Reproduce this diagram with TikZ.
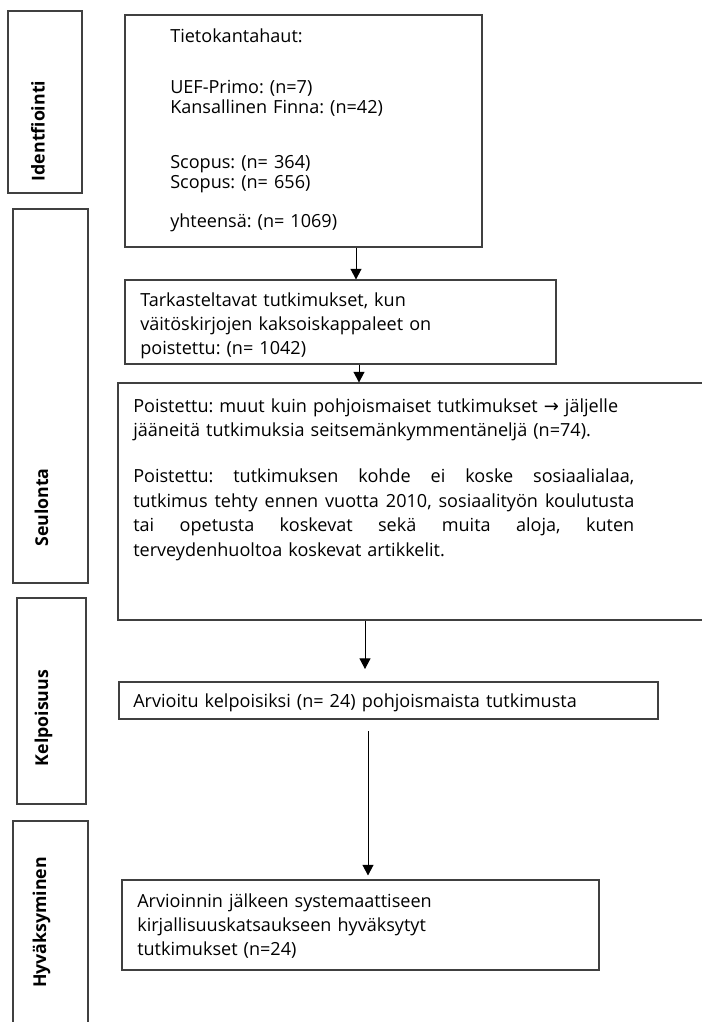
\documentclass[tikz,border=0pt]{standalone}
\usepackage{fontspec}
\setmainfont{Open Sans}
\newfontfamily\nuolifont{DejaVu Sans}
\usetikzlibrary{arrows.meta,fit}
\frenchspacing

% tasattu rivi
\newcommand{\tasarivi}[1]{{\spaceskip=0.26em plus 3em minus 0.12em\makebox[375.75pt][s]{#1}}}

\tikzset{
    laatikko/.style={draw=black!75, line width=0.8pt, inner sep=0pt},
    teksti/.style={inner sep=0pt, anchor=base west, align=left,
        font=\fontsize{13.55}{18}\selectfont},
    vaihe/.style={inner sep=0pt, rotate=90, anchor=base,
        font=\fontsize{13.3}{18}\selectfont\bfseries},
    nuoli/.style={-{Triangle[length=8pt,width=8.25pt]}, line width=0.75pt, black},
}

\begin{document}
\begin{tikzpicture}[x=0.75pt, y=-0.75pt]
        \useasboundingbox (0,0) rectangle (702,1022);
        \clip (0,0) rectangle (702,1022);

        % Vaiheet vasemmalla
        \node[laatikko, fit={(8,11) (82,193)}] (identlaatikko) {};
        \node[vaihe] (ident) at (44.5,131) {Identfiointi};
        \node[laatikko, fit={(13,209) (88,583)}] (seullaatikko) {};
        \node[vaihe] (seul) at (48,507.5) {Seulonta};
        \node[laatikko, fit={(17,598) (86,804)}] (kelplaatikko) {};
        \node[vaihe] (kelpv) at (48,718) {Kelpoisuus};
        \node[laatikko, fit={(13,821) (88,1040)}] (hyvlaatikko) {};
        \node[vaihe] (hyvv) at (46,922.5) {Hyväksyminen};

        % Tietokantahaut
        \node[laatikko, fit={(125,15) (482,247)}] (haku) {};
        \node[teksti, text width=225pt, font=\fontsize{13.55}{15}\selectfont] (hakuteksti) at (170,42)
            {Tietokantahaut:\\[23.25pt]
             UEF-Primo: (n=7)\\
             Kansallinen Finna: (n=42)\\[26.25pt]
             Scopus: (n= 364)\\
             Scopus: (n= 656)\\[14.25pt]
             yhteensä: (n= 1069)};

        % Kaksoiskappaleiden poisto
        \node[laatikko, fit={(125,280) (556,364)}] (tark) {};
        \node[teksti, text width=310pt] (tarkteksti) at (140,306.5)
            {Tarkasteltavat tutkimukset, kun\\
             väitöskirjojen kaksoiskappaleet on\\
             poistettu: (n= 1042)};

        % Seulonta
        \node[laatikko, fit={(118,383) (720,620)}] (poist) {};
        \node[teksti, text width=375.75pt, font=\fontsize{13.55}{18.6}\selectfont] (poistteksti) at (133,412)
            {Poistettu: muut kuin pohjoismaiset tutkimukset {\nuolifont →} jäljelle\\
             jääneitä tutkimuksia seitsemänkymmentäneljä (n=74).\\[15.5pt]
             \tasarivi{Poistettu: tutkimuksen kohde ei koske sosiaalialaa,}\\
             \tasarivi{tutkimus tehty ennen vuotta 2010, sosiaalityön koulutusta}\\
             \tasarivi{tai opetusta koskevat sekä muita aloja, kuten}\\
             terveydenhuoltoa koskevat artikkelit.};

        % Kelpoisuus
        \node[laatikko, fit={(119,682) (658,719)}] (kelp) {};
        \node[teksti, text width=390pt] (kelpteksti) at (133,707)
            {Arvioitu kelpoisiksi (n= 24) pohjoismaista tutkimusta};

        % Hyväksytyt
        \node[laatikko, fit={(122,880) (599,970)}] (hyvak) {};
        \node[teksti, text width=340pt] (hyvakteksti) at (137,907)
            {Arvioinnin jälkeen systemaattiseen\\
             kirjallisuuskatsaukseen hyväksytyt\\
             tutkimukset (n=24)};

        % Nuolet
        \coordinate (nuoli3loppu) at (365,669);
        \coordinate (nuoli4alku) at (368,731);
        \draw[nuoli] (356,0 |- haku.south) -- (356,0 |- tark.north);
        \draw[nuoli] (359,0 |- tark.south) -- (359,0 |- poist.north);
        \draw[nuoli] (365,0 |- poist.south) -- (nuoli3loppu);
        \draw[nuoli, shorten >=3pt] (nuoli4alku) -- (368,0 |- hyvak.north);
    \end{tikzpicture}
\end{document}
